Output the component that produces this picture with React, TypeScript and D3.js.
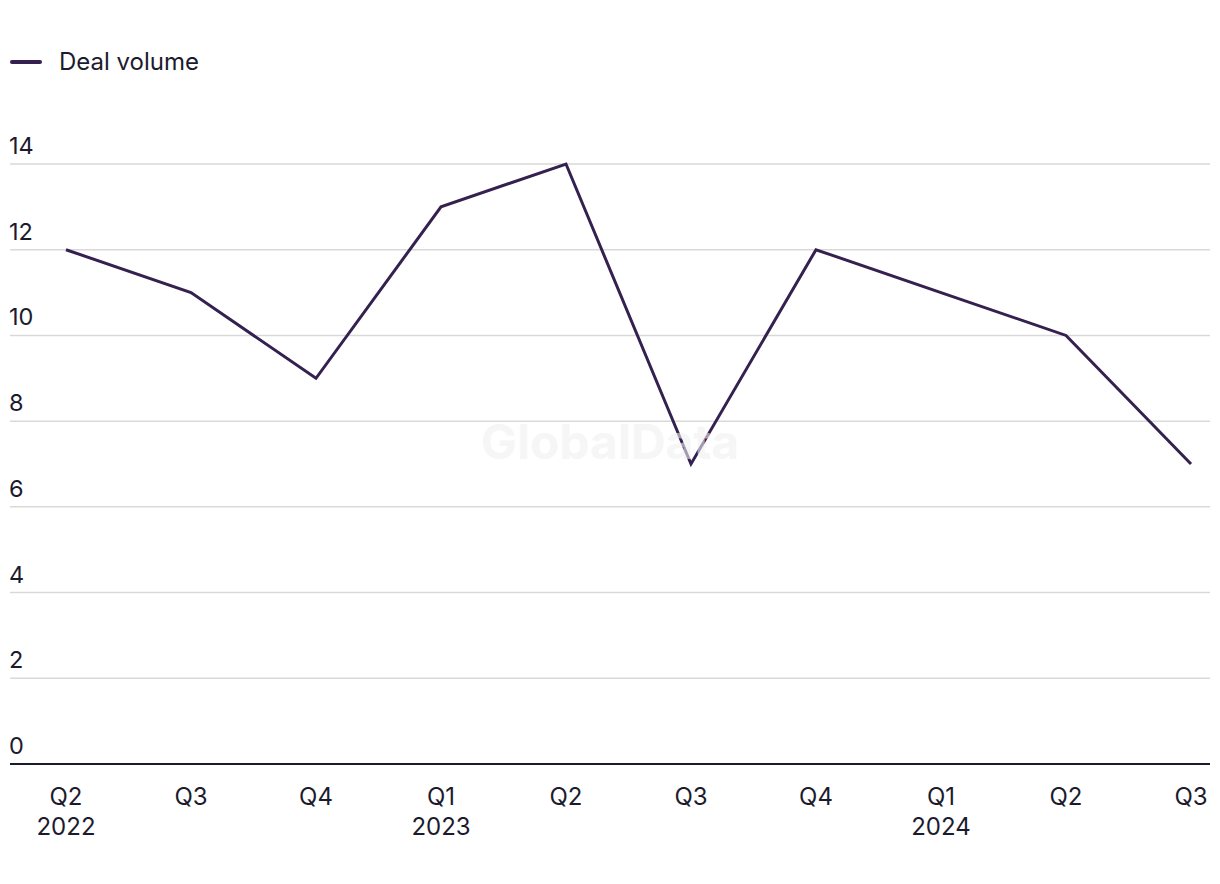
import React, {useEffect, useRef} from 'react'
import * as d3 from 'd3'

const quarters = ['Q2', 'Q3', 'Q4', 'Q1', 'Q2', 'Q3', 'Q4', 'Q1', 'Q2', 'Q3']
const years = ['2022', '', '', '2023', '', '', '', '2024', '', '']
const dealVolume = [12, 11, 9, 13, 14, 7, 12, 11, 10, 7]
const yTicks = [0, 2, 4, 6, 8, 10, 12, 14]

const width = 1220
const height = 884
const font = 'Inter, "Noto Sans", sans-serif'
const textColor = '#1c1b2e'
const lineColor = '#35214f'

export default function App() {
  const ref = useRef<SVGSVGElement | null>(null)

  useEffect(() => {
    const svg = d3.select(ref.current)
    svg.selectAll('*').remove()

    const idx = quarters.map((_, i) => i)
    const x = d3.scalePoint<number>().domain(idx).range([66, 1191])
    const y = d3.scaleLinear().domain([0, 14]).range([764, 164])

    // grid + y labels
    svg.append('g')
      .selectAll('line')
      .data(yTicks.filter(d => d > 0))
      .join('line')
      .attr('x1', 10).attr('x2', 1210)
      .attr('y1', d => y(d)).attr('y2', d => y(d))
      .attr('stroke', '#d9d9d9').attr('stroke-width', 1.5)

    svg.append('g')
      .selectAll('text')
      .data(yTicks)
      .join('text')
      .attr('x', 9)
      .attr('y', d => y(d) - 10)
      .attr('font-family', font).attr('font-size', 23.5)
      .attr('fill', textColor)
      .text(d => d)

    // baseline
    svg.append('line')
      .attr('x1', 10).attr('x2', 1210)
      .attr('y1', y(0)).attr('y2', y(0))
      .attr('stroke', textColor).attr('stroke-width', 2)

    // x labels
    const xl = svg.append('g')
      .selectAll('text')
      .data(idx)
      .join('text')
      .attr('text-anchor', 'middle')
      .attr('font-family', font).attr('font-size', 24)
      .attr('fill', textColor)
      .attr('x', d => x(d)!)
      .attr('y', 805)
    xl.append('tspan').attr('x', d => x(d)!).text(d => quarters[d])
    xl.append('tspan').attr('x', d => x(d)!).attr('dy', 30).text(d => years[d])

    // series line
    const line = d3.line<number>()
      .x((_, i) => x(i)!)
      .y(d => y(d))
    svg.append('path')
      .datum(dealVolume)
      .attr('d', line)
      .attr('fill', 'none')
      .attr('stroke', lineColor)
      .attr('stroke-width', 3)
      .attr('stroke-linejoin', 'miter')

    // watermark
    svg.append('text')
      .attr('x', 610).attr('y', 459)
      .attr('text-anchor', 'middle')
      .attr('font-family', font).attr('font-weight', 700).attr('font-size', 48)
      .attr('fill', '#f0f0f0').attr('fill-opacity', 0.6)
      .text('GlobalData')

    // legend
    svg.append('line')
      .attr('x1', 12).attr('x2', 40)
      .attr('y1', 62).attr('y2', 62)
      .attr('stroke', lineColor).attr('stroke-width', 4)
      .attr('stroke-linecap', 'round')
    svg.append('text')
      .attr('x', 59).attr('y', 70)
      .attr('font-family', font).attr('font-size', 24)
      .attr('fill', textColor)
      .text('Deal volume')
  }, [])

  return (
    <div style={{position: 'absolute', left: 0, top: 0}}>
      <svg ref={ref} width={width} height={height} style={{display: 'block', background: '#fff'}} />
    </div>
  )
}
